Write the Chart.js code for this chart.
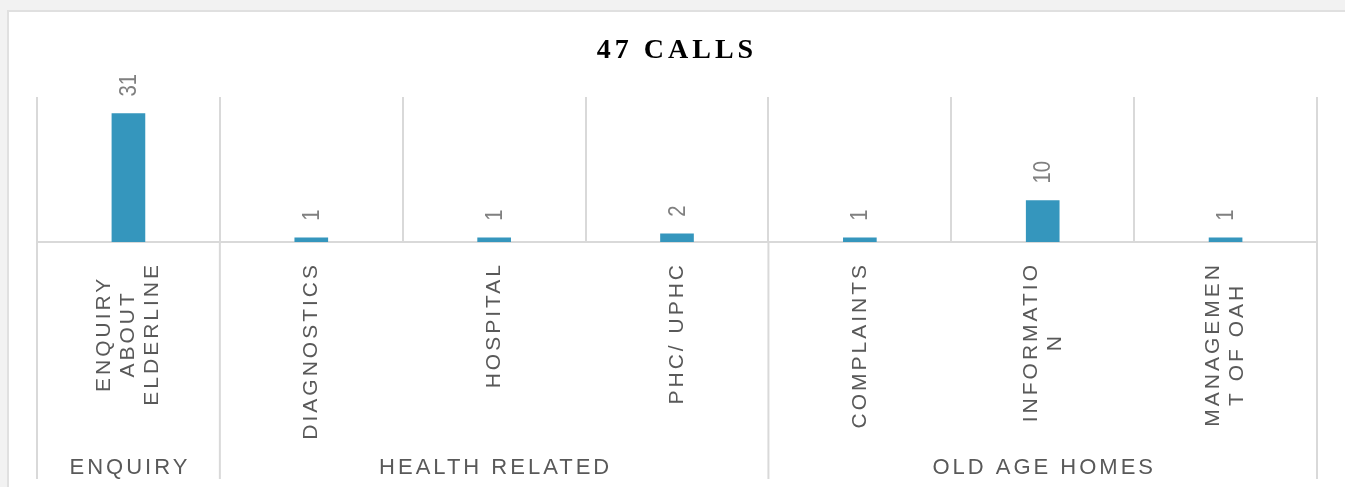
<!DOCTYPE html>
<html>
<head>
<meta charset="utf-8">
<script src="https://cdn.jsdelivr.net/npm/chart.js@4.4.1/dist/chart.umd.min.js"></script>
<style>
  html, body { margin: 0; padding: 0; background: #f2f2f2; overflow: hidden; }
  #card { position: absolute; left: 7px; top: 10px; width: 1400px; height: 600px; background: #fff;
          border-top: 2px solid #e0e0e0; border-left: 2px solid #e0e0e0; }
  #chart { position: absolute; left: 0; top: 0; }
</style>
</head>
<body>
<div id="card"></div>
<canvas id="chart" width="1345" height="487"></canvas>
<script>
// chart data
var title = "47 CALLS";
var categories = [
  ["ENQUIRY", "ABOUT", "ELDERLINE"],
  ["DIAGNOSTICS"],
  ["HOSPITAL"],
  ["PHC/ UPHC"],
  ["COMPLAINTS"],
  ["INFORMATIO", "N"],
  ["MANAGEMEN", "T OF OAH"]
];
var calls = [31, 1, 1, 2, 1, 10, 1];
var groups = ["ENQUIRY", "HEALTH RELATED", "OLD AGE HOMES"];
var groupSizes = [1, 3, 3];
var yMax = 35;

var lineColor = "#d9d9d9";
var textFont = "21px 'Liberation Sans', Arial, sans-serif";

// draws title, value labels, rotated category labels and the group row
var labelPlugin = {
  id: "labelPlugin",
  afterDraw: function(chart) {
    var ctx = chart.ctx;
    var area = chart.chartArea;
    var xScale = chart.scales.x;
    var bars = chart.getDatasetMeta(0).data;
    var half = (area.right - area.left) / categories.length / 2;

    ctx.save();

    // title
    ctx.font = "bold 28px 'Liberation Serif', 'Times New Roman', serif";
    ctx.letterSpacing = "4px";
    ctx.fillStyle = "#000";
    ctx.textAlign = "center";
    ctx.textBaseline = "alphabetic";
    ctx.fillText(title, (area.left + area.right) / 2, 58);

    // value labels above the bars
    ctx.font = "24px 'Liberation Sans', Arial, sans-serif";
    ctx.letterSpacing = "0px";
    ctx.fillStyle = "#808080";
    bars.forEach(function(bar, i) {
      ctx.save();
      ctx.translate(bar.x, bar.y - 17);
      ctx.rotate(-Math.PI / 2);
      ctx.scale(0.85, 1);
      ctx.textAlign = "left";
      ctx.textBaseline = "middle";
      ctx.fillText(String(calls[i]), 0, 1);
      ctx.restore();
    });

    // category labels, rotated
    ctx.font = textFont;
    ctx.letterSpacing = "3px";
    ctx.fillStyle = "#595959";
    var lineH = 24;
    categories.forEach(function(lines, i) {
      var cx = xScale.getPixelForValue(i);
      var maxW = 0;
      lines.forEach(function(l) { maxW = Math.max(maxW, ctx.measureText(l).width); });
      var cy = area.bottom + 20 + maxW / 2;
      lines.forEach(function(l, j) {
        var lx = cx + (j - (lines.length - 1) / 2) * lineH;
        ctx.save();
        ctx.translate(lx, cy);
        ctx.rotate(-Math.PI / 2);
        ctx.textAlign = "center";
        ctx.textBaseline = "middle";
        ctx.fillText(l, 0, 0);
        ctx.restore();
      });
    });

    // group labels and the long divider lines
    ctx.font = "22px 'Liberation Sans', Arial, sans-serif";
    ctx.textAlign = "center";
    ctx.textBaseline = "alphabetic";
    ctx.strokeStyle = lineColor;
    ctx.lineWidth = 2;
    var start = 0;
    var edges = [xScale.getPixelForValue(0) - half];
    groups.forEach(function(g, k) {
      var left = xScale.getPixelForValue(start) - half;
      var right = xScale.getPixelForValue(start + groupSizes[k] - 1) + half;
      ctx.fillText(g, (left + right) / 2 + 1.5, 474);
      edges.push(right);
      start += groupSizes[k];
    });
    edges.forEach(function(ex) {
      ctx.beginPath();
      ctx.moveTo(ex, area.bottom);
      ctx.lineTo(ex, 479);
      ctx.stroke();
    });

    ctx.restore();
  }
};

new Chart(document.getElementById("chart"), {
  type: "bar",
  data: {
    labels: categories.map(function(c) { return c.join(" "); }),
    datasets: [{
      data: calls,
      backgroundColor: "#3596bd",
      barThickness: 33
    }]
  },
  options: {
    responsive: false,
    animation: false,
    devicePixelRatio: 1,
    layout: { padding: { left: 37, right: 28, top: 97, bottom: 245 } },
    plugins: {
      legend: { display: false },
      tooltip: { enabled: false },
      title: { display: false }
    },
    scales: {
      x: {
        grid: { color: lineColor, lineWidth: 2, drawTicks: false, offset: true },
        border: { color: lineColor, width: 2 },
        ticks: { display: false }
      },
      y: { display: false, min: 0, max: yMax }
    }
  },
  plugins: [labelPlugin]
});
</script>
</body>
</html>
